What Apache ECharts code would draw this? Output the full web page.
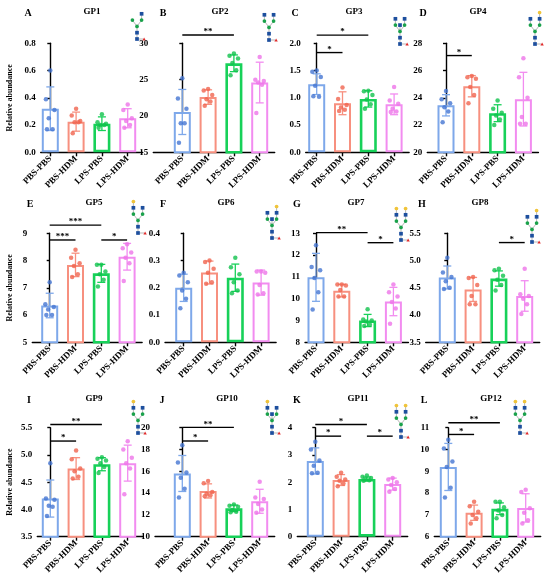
<!DOCTYPE html>
<html>
<head>
<meta charset="utf-8">
<script src="https://cdn.jsdelivr.net/npm/echarts@6/dist/echarts.min.js"></script>
<style>
  html, body { margin: 0; padding: 0; background: #fff; }
  #chart { width: 550px; height: 576px; }
</style>
</head>
<body>
<div id="chart"></div>
<script>
var groups = ['PBS-PBS', 'PBS-HDM', 'LPS-PBS', 'LPS-HDM'];
var panelLetters = ['A', 'B', 'C', 'D', 'E', 'F', 'G', 'H', 'I', 'J', 'K', 'L'];
var panelTitles = ['GP1', 'GP2', 'GP3', 'GP4', 'GP5', 'GP6', 'GP7', 'GP8', 'GP9', 'GP10', 'GP11', 'GP12'];

// y axis of each panel
var yMin = [0, 15, 0, 20, 5, 0, 8, 3.5, 3.5, 10, 0, 6];
var yMax = [0.8, 30, 2, 28, 9, 0.4, 13, 5.5, 5.5, 20, 4, 11];
var yStep = [0.2, 5, 0.5, 2, 1, 0.1, 1, 0.5, 0.5, 2, 1, 1];
var yDecimals = [1, 0, 1, 0, 0, 1, 0, 1, 1, 0, 0, 0];

// bar heights (mean) and error bars (SD), per panel, per group
var means = [
    [0.32, 0.225, 0.21, 0.25],
    [20.55, 22.6, 27.25, 24.6],
    [1.25, 0.90, 0.98, 0.88],
    [23.45, 24.85, 22.87, 23.9],
    [6.35, 7.84, 7.53, 8.14],
    [0.20, 0.256, 0.237, 0.219],
    [10.98, 10.37, 9.0, 9.87],
    [4.69, 4.47, 4.67, 4.35],
    [4.2, 4.75, 4.83, 4.85],
    [15.8, 14.2, 12.6, 13.25],
    [2.78, 2.08, 2.12, 1.93],
    [9.2, 7.1, 7.28, 7.32]
];
var sds = [
    [0.16, 0.07, 0.05, 0.07],
    [3.1, 1.0, 1.15, 2.8],
    [0.19, 0.21, 0.15, 0.19],
    [0.78, 0.78, 0.62, 1.97],
    [0.45, 0.43, 0.33, 0.49],
    [0.05, 0.042, 0.05, 0.046],
    [1.1, 0.29, 0.28, 0.65],
    [0.21, 0.22, 0.14, 0.28],
    [0.34, 0.2, 0.12, 0.33],
    [1.65, 0.65, 0.3, 1.1],
    [0.48, 0.2, 0.07, 0.22],
    [1.08, 0.35, 0.27, 0.65]
];

// individual samples
var points = [
    [[0.60, 0.39, 0.31, 0.25, 0.17, 0.17], [0.32, 0.27, 0.23, 0.22, 0.22, 0.14], [0.28, 0.22, 0.21, 0.20, 0.20, 0.18], [0.35, 0.31, 0.25, 0.23, 0.20, 0.18]],
    [[25.2, 22.4, 21.0, 19.0, 19.0, 16.3], [23.7, 23.5, 22.9, 22.3, 22.0, 21.4], [28.6, 28.3, 27.9, 27.3, 26.3, 25.6], [28.1, 25.0, 24.8, 24.6, 24.3, 20.4]],
    [[1.50, 1.48, 1.38, 1.22, 1.02, 1.03], [1.19, 0.98, 0.87, 0.82, 0.78, 0.76], [1.13, 1.12, 1.05, 0.97, 0.88, 0.80], [1.20, 0.95, 0.89, 0.80, 0.75, 0.74]],
    [[24.5, 23.9, 23.6, 23.3, 23.0, 22.2], [25.6, 25.5, 25.4, 24.8, 24.2, 23.6], [23.8, 23.2, 22.9, 22.7, 22.4, 22.0], [26.9, 25.5, 24.0, 22.6, 22.1, 22.1]],
    [[7.2, 6.4, 6.3, 6.2, 6.0, 6.0], [8.4, 8.1, 7.9, 7.8, 7.5, 7.4], [7.85, 7.85, 7.6, 7.5, 7.3, 7.05], [8.6, 8.45, 8.3, 8.1, 7.9, 7.25]],
    [[0.255, 0.245, 0.22, 0.19, 0.16, 0.125], [0.30, 0.295, 0.27, 0.255, 0.22, 0.215], [0.31, 0.275, 0.25, 0.22, 0.19, 0.18], [0.26, 0.26, 0.255, 0.21, 0.18, 0.175]],
    [[12.45, 11.45, 11.3, 10.95, 10.3, 9.5], [10.65, 10.65, 10.6, 10.4, 10.1, 10.1], [9.52, 9.05, 9.0, 8.95, 8.8, 8.75], [10.65, 10.3, 10.1, 9.85, 9.55, 8.85]],
    [[5.05, 4.78, 4.7, 4.62, 4.5, 4.48], [4.7, 4.68, 4.55, 4.35, 4.2, 4.2], [4.85, 4.82, 4.72, 4.65, 4.55, 4.45], [4.85, 4.38, 4.35, 4.3, 4.2, 4.02]],
    [[4.85, 4.2, 4.18, 4.07, 4.05, 3.88], [5.08, 4.92, 4.75, 4.70, 4.60, 4.57], [4.96, 4.93, 4.90, 4.85, 4.78, 4.67], [5.25, 5.1, 4.95, 4.85, 4.75, 4.28]],
    [[18.4, 16.8, 15.9, 15.4, 14.4, 13.6], [15.1, 14.9, 14.1, 13.95, 13.8, 13.7], [12.95, 12.85, 12.75, 12.45, 12.3, 12.25], [15.05, 13.6, 13.45, 13.0, 12.5, 12.2]],
    [[3.48, 3.2, 2.8, 2.6, 2.35, 2.33], [2.35, 2.2, 2.1, 2.05, 1.95, 1.85], [2.25, 2.2, 2.15, 2.1, 2.07, 2.05], [2.15, 2.1, 2.0, 1.9, 1.75, 1.65]],
    [[10.45, 10.05, 9.45, 9.2, 8.25, 7.8], [7.6, 7.4, 7.15, 7.0, 6.85, 6.6], [7.6, 7.6, 7.35, 7.2, 7.0, 6.85], [8.15, 8.05, 7.3, 7.1, 6.75, 6.6]]
];

// significance brackets: [from group, to group, y value, stars]
var brackets = [
    [],
    [[0, 2, 31.15, '**']],
    [[0, 1, 1.83, '*'], [0, 2, 2.15, '*']],
    [[0, 1, 27.1, '*']],
    [[0, 1, 8.755, '***'], [0, 2, 9.3, '***'], [2, 3, 8.755, '*']],
    [],
    [[0, 2, 13.03, '**'], [2, 3, 12.57, '*']],
    [[2, 3, 5.33, '*']],
    [[0, 1, 5.255, '*'], [0, 2, 5.56, '**']],
    [[0, 1, 18.78, '*'], [0, 2, 20.03, '**']],
    [[0, 1, 3.69, '*'], [0, 2, 4.12, '*'], [2, 3, 3.69, '*']],
    [[0, 1, 10.69, '*'], [0, 2, 11.23, '**']]
];

// glycan icons: residues on left / right antenna, bisecting GlcNAc
var glycans = [
    {l: [], r: ['B'], m: false},
    {l: ['B'], r: ['B'], m: false},
    {l: ['B'], r: ['B'], m: true},
    {l: ['B'], r: ['B', 'Y'], m: false},
    {l: ['B', 'Y'], r: ['B'], m: false},
    {l: ['B'], r: ['B', 'Y'], m: true},
    {l: ['B', 'Y'], r: ['B', 'Y'], m: false},
    {l: ['B'], r: ['B', 'Y'], m: false},
    {l: ['B', 'Y'], r: ['B'], m: false},
    {l: ['B', 'Y'], r: ['B'], m: true},
    {l: ['B', 'Y'], r: ['B', 'Y'], m: false},
    {l: ['B', 'Y'], r: ['B', 'Y'], m: false}
];

var barColors = ['#7ea8ea', '#f7907f', '#17d159', '#f28cf0'];
var barBorders = [2, 2, 2.6, 2];
var dotColors = ['#4576d2', '#f0644f', '#10c24c', '#ee74e8'];
var residueColors = {B: '#1d4f9e', G: '#1aa24b', Y: '#f0c43a'};
var jitter = [0.0, -0.17, 0.16, -0.06, 0.09, -0.13];
var FONT = 'Liberation Serif';
var STEP = 25.8;

// [axis x, first bar centre, plot top, plot bottom, letter x, title x, title y, glycan x, glycan bottom]
var layout = [
    [40.7, 50.3, 43.3, 152.3, 28, 92, 13, 137, 39],
    [153.3, 182.3, 43.3, 152.3, 163, 220, 13, 269, 40],
    [305.7, 316.7, 43.3, 152.3, 295, 354, 13, 400, 44],
    [427.3, 446, 43.3, 152.3, 423, 478, 13, 535, 44],
    [32.3, 49.7, 233.3, 342.3, 30, 94, 204, 138, 233],
    [165, 183.7, 233.3, 342.3, 163, 226, 204, 272, 238],
    [305, 316, 233.3, 342.3, 297, 356, 204, 401, 240],
    [425.7, 447.3, 233.3, 342.3, 422, 480, 204, 532, 242],
    [37.3, 50.3, 427.7, 536.7, 29, 94, 400, 138, 433],
    [155, 182.3, 427.7, 536.7, 162, 227, 400, 272, 433],
    [297.3, 315.3, 427.7, 536.7, 297, 358, 400, 401, 437],
    [434.3, 448.3, 427.7, 536.7, 424, 491, 400, 520, 433]
];

function glycanIcon(def, cx, by) {
    var dy = 6.3, dx = 4.6, sz = 3.7;
    var nodes = [], links = [];
    function add(t, x, y, parent) {
        var n = {t: t, x: x, y: y};
        nodes.push(n);
        if (parent) links.push([parent.x, parent.y, x, y]);
        return n;
    }
    var n0 = add('B', cx, by);
    var n1 = add('B', cx, by - dy, n0);
    var core = add('G', cx, by - 2 * dy, n1);
    var gl = add('G', cx - dx, by - 3 * dy, core);
    var gr = add('G', cx + dx, by - 3 * dy, core);
    if (def.m) add('B', cx, by - 3 * dy, core);
    var prev = gl;
    def.l.forEach(function (t, k) { prev = add(t, cx - dx, by - (4 + k) * dy, prev); });
    prev = gr;
    def.r.forEach(function (t, k) { prev = add(t, cx + dx, by - (4 + k) * dy, prev); });
    links.push([cx, by, cx + 6, by]);

    var els = [];
    links.forEach(function (k) {
        els.push({type: 'line', shape: {x1: k[0], y1: k[1], x2: k[2], y2: k[3]}, style: {stroke: '#999', lineWidth: 0.7}});
    });
    nodes.forEach(function (n) {
        if (n.t === 'B') {
            els.push({type: 'rect', shape: {x: n.x - sz / 2, y: n.y - sz / 2, width: sz, height: sz}, style: {fill: residueColors.B}});
        } else {
            els.push({type: 'circle', shape: {cx: n.x, cy: n.y, r: sz / 2}, style: {fill: residueColors[n.t]}});
        }
    });
    els.push({type: 'polygon', shape: {points: [[cx + 5.4, by + 1.6], [cx + 8.8, by + 1.6], [cx + 7.1, by - 1.6]]}, style: {fill: '#e02a2a'}});
    return els;
}

function textEl(str, x, y, size) {
    return {
        type: 'text', x: x, y: y,
        style: {
            text: str, fill: '#000', font: 'bold ' + size + 'px "' + FONT + '"',
            align: 'center', verticalAlign: 'middle', textAlign: 'center', textVerticalAlign: 'middle'
        }
    };
}

var chartDom = document.getElementById('chart');
var chart = echarts.init(chartDom, null, {renderer: 'canvas'});

var grids = [], xAxes = [], yAxes = [], series = [], graphics = [];

for (var p = 0; p < 12; p++) {
    (function (p) {
        var L = layout[p];
        var ax = L[0], c0 = L[1], top = L[2], bottom = L[3];
        var xEnd = c0 + 3 * STEP + 15;
        var axisLineStyle = {color: '#000', width: 1.4};

        grids.push({left: ax, top: top, width: xEnd - ax, height: bottom - top, containLabel: false, outerBoundsMode: 'none'});

        xAxes.push({
            gridIndex: p, type: 'value',
            min: -(c0 - ax) / STEP, max: 3 + 15 / STEP,
            axisLine: {show: true, onZero: false, lineStyle: axisLineStyle},
            axisTick: {show: true, customValues: [0, 1, 2, 3], length: 4, inside: false, lineStyle: axisLineStyle},
            axisLabel: {
                customValues: [0, 1, 2, 3], rotate: 45, margin: 5,
                formatter: function (v) { return groups[Math.round(v)]; },
                fontFamily: FONT, fontWeight: 'bold', fontSize: 9, color: '#000'
            },
            splitLine: {show: false}
        });

        var yAxis = {
            gridIndex: p, type: 'value',
            min: yMin[p], max: yMax[p], interval: yStep[p],
            axisLine: {show: true, lineStyle: axisLineStyle},
            axisTick: {show: true, length: 3, inside: false, lineStyle: axisLineStyle},
            axisLabel: {
                margin: 5,
                formatter: function (v) { return v.toFixed(yDecimals[p]); },
                fontFamily: FONT, fontWeight: 'bold', fontSize: 9, color: '#000'
            },
            splitLine: {show: false}
        };
        if (p % 4 === 0) {
            yAxis.name = 'Relative abundance';
            yAxis.nameLocation = 'middle';
            yAxis.nameRotate = 90;
            yAxis.nameGap = ax - 14;
            yAxis.nameTextStyle = {fontFamily: FONT, fontWeight: 'bold', fontSize: 8, color: '#000'};
        }
        yAxes.push(yAxis);

        series.push({
            type: 'bar', xAxisIndex: p, yAxisIndex: p, barWidth: 17,
            data: means[p].map(function (m, i) {
                return {value: [i, m], itemStyle: {borderColor: barColors[i], borderWidth: barBorders[i]}};
            }),
            itemStyle: {color: '#fff'},
            z: 2, silent: true
        });

        series.push({
            type: 'custom', xAxisIndex: p, yAxisIndex: p,
            data: means[p].map(function (m, i) { return [i, m - sds[p][i], m + sds[p][i]]; }),
            encode: {x: 0, y: [1, 2]},
            renderItem: function (params, api) {
                var x = api.value(0);
                var lo = api.coord([x, api.value(1)]);
                var hi = api.coord([x, api.value(2)]);
                var st = {stroke: barColors[params.dataIndex], lineWidth: 1.3};
                var hw = 4;
                return {
                    type: 'group', children: [
                        {type: 'line', shape: {x1: lo[0], y1: lo[1], x2: hi[0], y2: hi[1]}, style: st},
                        {type: 'line', shape: {x1: hi[0] - hw, y1: hi[1], x2: hi[0] + hw, y2: hi[1]}, style: st},
                        {type: 'line', shape: {x1: lo[0] - hw, y1: lo[1], x2: lo[0] + hw, y2: lo[1]}, style: st}
                    ]
                };
            },
            z: 3, silent: true
        });

        var dots = [];
        points[p].forEach(function (arr, i) {
            arr.forEach(function (v, k) {
                dots.push({value: [i + jitter[k], v], itemStyle: {color: dotColors[i]}});
            });
        });
        series.push({
            type: 'scatter', xAxisIndex: p, yAxisIndex: p,
            symbol: 'circle', symbolSize: 4.5, data: dots, z: 4, silent: true
        });

        if (brackets[p].length) {
            series.push({
                type: 'custom', xAxisIndex: p, yAxisIndex: p,
                data: brackets[p].map(function (b) { return [b[0], b[1], b[2]]; }),
                encode: {x: [0, 1], y: 2},
                renderItem: function (params, api) {
                    var b = brackets[p][params.dataIndex];
                    var a = api.coord([b[0], b[2]]);
                    var c = api.coord([b[1], b[2]]);
                    return {
                        type: 'group', children: [
                            {type: 'line', shape: {x1: a[0], y1: a[1], x2: c[0], y2: c[1]}, style: {stroke: '#000', lineWidth: 1.4}},
                            {
                                type: 'text', x: (a[0] + c[0]) / 2, y: a[1] - 3,
                                style: {
                                    text: b[3], fill: '#000', font: 'bold 9px "' + FONT + '"',
                                    align: 'center', verticalAlign: 'middle', textAlign: 'center', textVerticalAlign: 'middle'
                                }
                            }
                        ]
                    };
                },
                clip: false, z: 5, silent: true
            });
        }

        graphics.push(textEl(panelLetters[p], L[4], L[6], 10));
        graphics.push(textEl(panelTitles[p], L[5], L[6] - 1, 9));
        graphics.push({type: 'group', children: glycanIcon(glycans[p], L[7], L[8])});
    })(p);
}

chart.setOption({
    animation: false,
    backgroundColor: '#fff',
    grid: grids,
    xAxis: xAxes,
    yAxis: yAxes,
    series: series,
    graphic: {elements: graphics}
});
</script>
</body>
</html>
